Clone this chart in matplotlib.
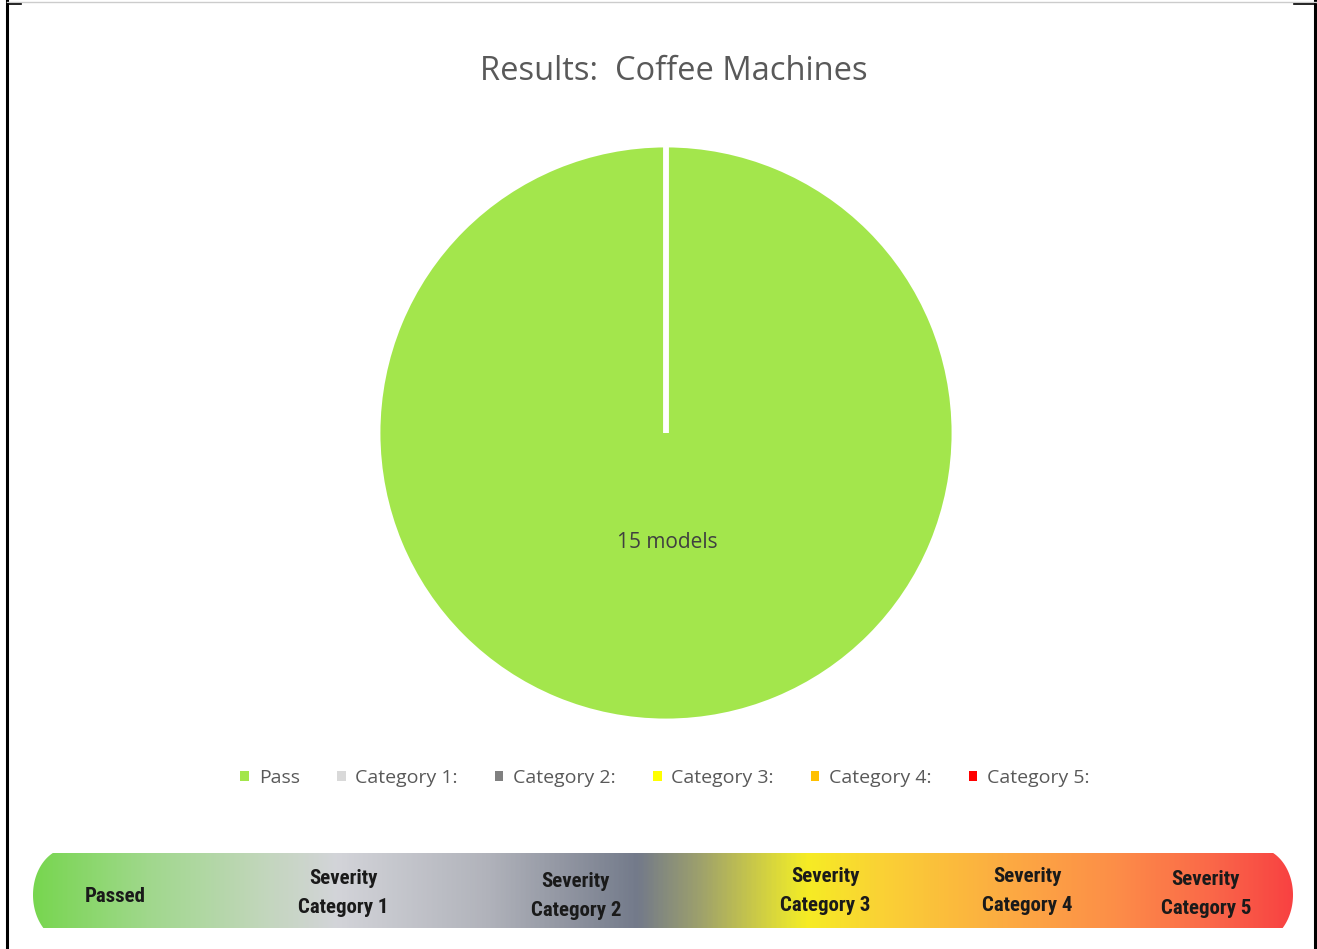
import matplotlib
matplotlib.use("Agg")
import matplotlib.pyplot as plt
import numpy as np
from matplotlib.colors import LinearSegmentedColormap
from matplotlib.patches import Polygon, Patch
from matplotlib.lines import Line2D
from matplotlib import font_manager

# ---------------- data ----------------
title = "Results:  Coffee Machines"
categories = ["Pass", "Category 1:", "Category 2:", "Category 3:", "Category 4:", "Category 5:"]
values = [15, 0, 0, 0, 0, 0]
slice_labels = ["15 models", "", "", "", "", ""]
colors = ["#A3E64C", "#D9D9D9", "#808080", "#FFFF00", "#FFC000", "#FF0000"]

bar_labels = ["Passed", "Severity\nCategory 1", "Severity\nCategory 2",
              "Severity\nCategory 3", "Severity\nCategory 4", "Severity\nCategory 5"]
bar_label_x = [115, 343, 576, 825, 1027, 1206]
bar_label_y = [896, 893, 896, 891, 891, 894]
grad_pos = [0.0, 0.09, 0.19, 0.24, 0.36, 0.48, 0.53, 0.60, 0.615, 0.67, 0.77, 0.86, 0.94, 1.0]
grad_col = ["#78D650", "#A0D88C", "#C5D6C0", "#D3D4D9", "#B1B3BB", "#737A8A", "#9EA16C",
            "#E5E232", "#F6EC24", "#FAD334", "#FCAC42", "#FD8E48", "#FA6649", "#F84242"]

W, H = 1317, 949
fig = plt.figure(figsize=(W / 100, H / 100), dpi=100)
fig.patch.set_facecolor("white")

main_font = ["Open Sans", "DejaVu Sans"]

# pick a narrow bold font if one is installed
narrow_family, narrow_stretch = "Liberation Sans", "normal"
entries = font_manager.fontManager.ttflist
names = {f.name for f in entries}
for cand in ["Liberation Sans Narrow", "Roboto Condensed", "Open Sans Condensed",
             "Noto Sans Condensed", "Arial Narrow"]:
    if cand in names:
        narrow_family = cand
        break
else:
    for f in entries:
        if f.name in ("DejaVu Sans", "Noto Sans", "Open Sans", "Roboto") and \
                str(f.stretch) in ("condensed", "semi-condensed", "extra-condensed", "625", "500"):
            narrow_family, narrow_stretch = f.name, f.stretch
            break

# ---------------- pie ----------------
cx, cy, r = 666, 433, 288
ax = fig.add_axes([(cx - r) / W, (H - cy - r) / H, 2 * r / W, 2 * r / H])
wedges, texts = ax.pie(values, colors=colors, labels=slice_labels, startangle=90,
                       counterclock=False, labeldistance=0.38,
                       wedgeprops=dict(edgecolor="white", linewidth=3.5),
                       textprops=dict(color="#404040", fontsize=15, family=main_font))
for t in texts:
    t.set_ha("left")
    t.set_position((t.get_position()[0] - 0.17, t.get_position()[1]))
ax.set_xlim(-1, 1)
ax.set_ylim(-1, 1)
ax.axis("off")

fig.text(674 / W, 1 - 71 / H, title, ha="center", va="center", fontsize=23.5,
         color="#595959", family=main_font)

handles = [Patch(facecolor=c, edgecolor="none") for c in colors]
leg = fig.legend(handles, categories, loc="center", bbox_to_anchor=(665 / W, 1 - 778 / H),
                 ncol=6, frameon=False, handlelength=0.45, handleheight=0.45,
                 handletextpad=0.5, columnspacing=1.9,
                 prop=dict(family=main_font, size=14))
for t in leg.get_texts():
    t.set_color("#595959")

# ---------------- overlay: gradient bar + border ----------------
ov = fig.add_axes([0, 0, 1, 1], zorder=-1)
ov.set_xlim(0, W)
ov.set_ylim(H, 0)
ov.axis("off")

x0, x1, y0, y1 = 33, 1293, 853, 928
cmap = LinearSegmentedColormap.from_list("sev", list(zip(grad_pos, grad_col)))
grad = np.linspace(0, 1, 512)[None, :]
im = ov.imshow(grad, cmap=cmap, aspect="auto", extent=[x0, x1, y1, y0], interpolation="bilinear")

# clip shape: elliptic end caps, flat bottom
a, b, ecy = 36, 47, 895
lcx, rcx = x0 + a, x1 - a
ys = np.linspace(y0, y1, 60)
dx = a * np.sqrt(np.clip(1 - ((ys - ecy) / b) ** 2, 0, 1))
right = np.column_stack([rcx + dx, ys])
left = np.column_stack([lcx - dx, ys])[::-1]
clip = Polygon(np.vstack([right, left]), closed=True, transform=ov.transData,
               facecolor="none", edgecolor="none")
ov.add_patch(clip)
im.set_clip_path(clip)
ov.set_xlim(0, W)
ov.set_ylim(H, 0)

for lab, lx, ly in zip(bar_labels, bar_label_x, bar_label_y):
    ov.text(lx, ly, lab, ha="center", va="center", multialignment="center",
            fontsize=15, fontweight="bold", family=narrow_family, fontstretch=narrow_stretch,
            color="#1A1A1A", linespacing=1.7)

# frame lines
ov.add_line(Line2D([7, 7], [0, H], color="black", lw=2.2))
ov.add_line(Line2D([1315, 1315], [0, H], color="black", lw=2.2))
ov.add_line(Line2D([7, W], [2, 2], color="#CCCCCC", lw=1))
ov.add_line(Line2D([7, 21], [4, 4], color="black", lw=1.2))
ov.add_line(Line2D([1294, 1315], [4, 4], color="black", lw=1.2))

fig.savefig("out.png", dpi=100, facecolor="white")
